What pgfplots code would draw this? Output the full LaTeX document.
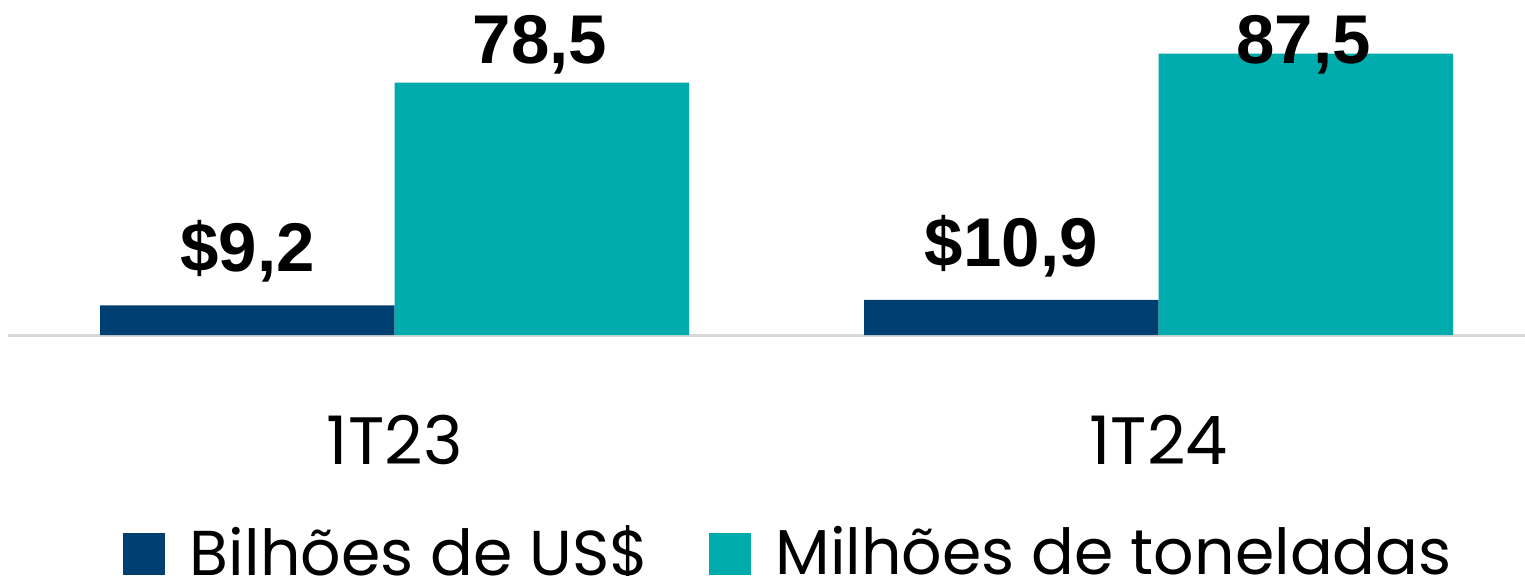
\documentclass[border=0pt]{standalone}
\usepackage{fontspec}
\setmainfont{Poppins}
\newfontfamily\valfont{Liberation Sans}
\usepackage{pgfplots}
\pgfplotsset{compat=1.18}
\definecolor{dblue}{HTML}{003F71}
\definecolor{teal}{HTML}{00ABAE}
\definecolor{basegray}{HTML}{D9D9D9}
\begin{document}
\begin{tikzpicture}
\begin{axis}[
  at={(4pt,120pt)}, anchor=south west,
  scale only axis,
  width=758.5pt, height=167.5pt,
  xmin=-0.5063, xmax=1.4798,
  ymin=0, ymax=104.2,
  ybar=0pt, bar width=147.25pt,
  axis x line=bottom, axis y line=none,
  x axis line style={-, draw=basegray, line width=1.5pt},
  xtick=data, xticklabels={1T23,1T24},
  xtick style={draw=none},
  xticklabel style={anchor=base, yshift=-62.5pt, font=\fontsize{33.5}{36}\selectfont},
  clip=false,
  legend columns=2,
  legend style={draw=none, fill=none, at={(0.0758,-0.7164)}, anchor=south west,
    inner sep=0pt, outer sep=0pt,
    nodes={inner sep=0pt, text depth=0pt, font=\fontsize{31.7}{36}\selectfont},
    /tikz/every even column/.append style={column sep=29.75pt}},
  legend image code/.code={\path[draw=none, fill=none] (0pt,0pt) rectangle (33.5pt,21pt);
    \fill[#1, overlay] (0pt,-12.5pt) rectangle (21pt,8.5pt);},
]
\addplot[fill=dblue, draw=none, point meta=explicit symbolic,
  nodes near coords,
  every node near coord/.append style={anchor=base, yshift=16.8pt, inner sep=0pt,
    font=\valfont\bfseries\fontsize{34.5}{36}\selectfont, text=black}]
  coordinates {(0,9.2) [\$9,2] (1,10.9) [\$10,9]};
\addlegendentry{Bilhões de US\$}
\addplot[fill=teal, draw=none] coordinates {(0,78.5) (1,87.5)};
\addlegendentry{Milhões de toneladas}
\node[anchor=base, inner sep=0pt, font=\valfont\bfseries\fontsize{34.5}{36}\selectfont] at (axis cs:0.190,84.6) {78,5};
\node[anchor=base, inner sep=0pt, font=\valfont\bfseries\fontsize{34.5}{36}\selectfont] at (axis cs:1.190,84.6) {87,5};
\end{axis}
\pgfresetboundingbox
\path[use as bounding box] (0pt,0pt) rectangle (762.5pt,287.5pt);
\end{tikzpicture}
\end{document}
